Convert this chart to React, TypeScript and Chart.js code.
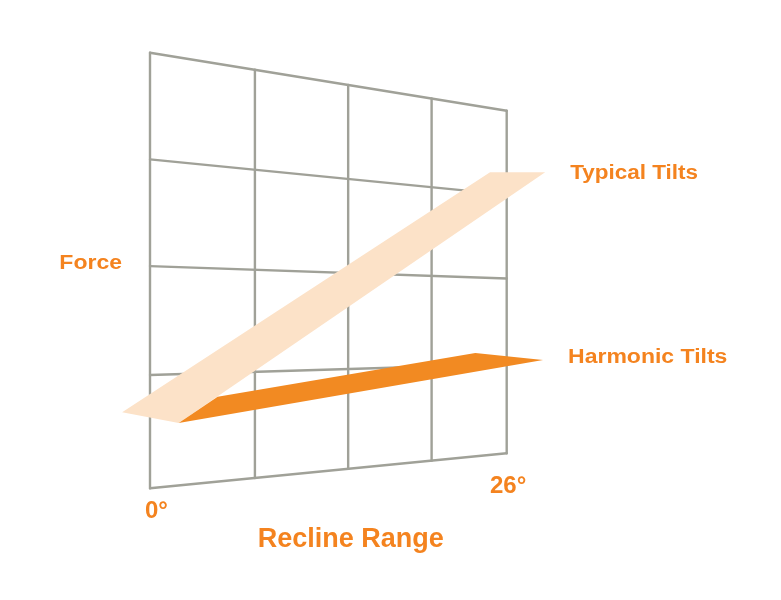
import { useEffect, useRef } from "react";
import { Chart, registerables } from "chart.js";

Chart.register(...registerables);

// recline range in degrees, force in % of full scale
const reclineTicks = [0, 26];
const reclineTickLabels = ["0°", "26°"];
const gridDegrees = [0, 6.5, 13, 19.5, 26];
const gridForce = [0, 26, 51, 75.5, 100];

const axisTitles = { x: "Recline Range", y: "Force" };

// each tilt is a ribbon: outline corners as [recline°, force%]
const typicalLabel = "Typical Tilts";
const typicalDeg = [-1.6, 24.5, 29.6, 1.7];
const typicalForce = [17.8, 81.5, 83.4, 14.6];

const harmonicLabel = "Harmonic Tilts";
const harmonicDeg = [1.7, 4.1, 23.2, 29.4];
const harmonicForce = [14.6, 20.3, 29.5, 26.9];

// layout of the perspective wall, in canvas units
const W = 781;
const H = 600;
const WALL = {
  left: 150,
  right: 506.7,
  topL: 52.7,
  botL: 488.3,
  topR: 110.7,
  botR: 453.3,
  depth: 0.25,
};

const ORANGE = "#F28A22";
const PEACH = "#FCE2C8";
const GRID = "#A0A198";
const TEXT = "#F4831F";
const FONT = '"Liberation Sans", Arial, sans-serif';

function project(deg: number, force: number) {
  const u = (deg - reclineTicks[0]) / (reclineTicks[1] - reclineTicks[0]);
  const f = (u * (1 + WALL.depth)) / (1 + WALL.depth * u);
  const x = WALL.left + (WALL.right - WALL.left) * f;
  const top = WALL.topL + (WALL.topR - WALL.topL) * f;
  const bot = WALL.botL + (WALL.botR - WALL.botL) * f;
  return { x, y: bot - ((bot - top) * force) / 100 };
}

function ribbon(label: string, degs: number[], forces: number[], color: string) {
  const pts = degs.map((d, i) => project(d, forces[i]));
  return {
    label,
    data: [...pts, pts[0]],
    borderColor: color,
    backgroundColor: color,
    borderWidth: 0,
    pointRadius: 0,
    fill: "shape" as const,
    tension: 0,
  };
}

function gridLine(a: { x: number; y: number }, b: { x: number; y: number }) {
  return {
    label: "",
    data: [a, b],
    borderColor: GRID,
    borderWidth: 2.4,
    borderCapStyle: "round" as const,
    pointRadius: 0,
    fill: false,
    tension: 0,
  };
}

function drawText(
  ctx: CanvasRenderingContext2D,
  text: string,
  x: number,
  y: number,
  size: number,
  align: "left" | "right" | "center",
  stretch = 1
) {
  ctx.save();
  ctx.font = `bold ${size}px ${FONT}`;
  ctx.fillStyle = TEXT;
  ctx.textBaseline = "alphabetic";
  ctx.textAlign = "left";
  const w = ctx.measureText(text).width * stretch;
  const left = align === "left" ? x : align === "right" ? x - w : x - w / 2;
  ctx.translate(left, y);
  ctx.scale(stretch, 1);
  ctx.fillText(text, 0, 0);
  ctx.restore();
}

const labelsPlugin = {
  id: "wallLabels",
  afterDatasetsDraw(chart: Chart) {
    const { ctx } = chart;
    const sx = chart.scales.x;
    const sy = chart.scales.y;
    const px = (p: { x: number; y: number }) => ({
      x: sx.getPixelForValue(p.x),
      y: sy.getPixelForValue(p.y),
    });

    const force = px(project(reclineTicks[0], 50));
    drawText(ctx, axisTitles.y, force.x - 28, force.y - 1.5, 20, "right", 1.15);

    const t = px(project(typicalDeg[2], typicalForce[2]));
    drawText(ctx, typicalLabel, t.x + 25, t.y + 7, 20, "left", 1.125);

    const h = px(project(harmonicDeg[3], harmonicForce[3]));
    drawText(ctx, harmonicLabel, h.x + 25, h.y + 3.3, 20, "left", 1.15);

    const t0 = px(project(reclineTicks[0], 0));
    drawText(ctx, reclineTickLabels[0], t0.x - 5, t0.y + 30, 24, "left");
    const t1 = px(project(reclineTicks[1], 0));
    drawText(ctx, reclineTickLabels[1], t1.x - 16.7, t1.y + 39.4, 24, "left");

    const mid = px(project((reclineTicks[0] + reclineTicks[1]) / 2, 0));
    drawText(ctx, axisTitles.x, mid.x + 2.6, mid.y + 77.8, 27, "center");
  },
};

export default function App() {
  const canvasRef = useRef<HTMLCanvasElement>(null);

  useEffect(() => {
    const canvas = canvasRef.current;
    if (!canvas) return;

    const verticals = gridDegrees.map((d) =>
      gridLine(project(d, gridForce[gridForce.length - 1]), project(d, gridForce[0]))
    );
    const horizontals = gridForce.map((f) =>
      gridLine(project(gridDegrees[0], f), project(gridDegrees[gridDegrees.length - 1], f))
    );

    const chart = new Chart(canvas, {
      type: "line",
      data: {
        datasets: [
          ribbon(harmonicLabel, harmonicDeg, harmonicForce, ORANGE),
          ribbon(typicalLabel, typicalDeg, typicalForce, PEACH),
          ...horizontals,
          ...verticals,
        ] as any,
      },
      options: {
        animation: false,
        responsive: true,
        maintainAspectRatio: false,
        events: [],
        layout: { padding: 0 },
        plugins: {
          legend: { display: false },
          tooltip: { enabled: false },
        },
        scales: {
          x: { type: "linear", min: 0, max: W, display: false },
          y: { type: "linear", min: 0, max: H, reverse: true, display: false },
        },
      },
      plugins: [labelsPlugin],
    });

    return () => chart.destroy();
  }, []);

  return (
    <div
      style={{
        position: "fixed",
        left: 0,
        top: 0,
        width: W,
        height: H,
        background: "#fff",
      }}
    >
      <canvas ref={canvasRef} />
    </div>
  );
}
